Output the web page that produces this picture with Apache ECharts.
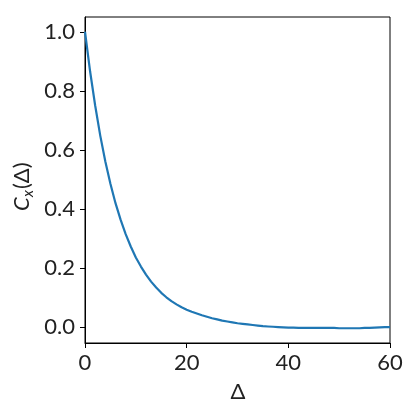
<!DOCTYPE html>
<html>
<head>
<meta charset="utf-8">
<script src="https://cdn.jsdelivr.net/npm/echarts@6/dist/echarts.min.js"></script>
<style>
  html, body { margin: 0; padding: 0; background: #fff; }
  #chart { width: 415px; height: 415px; }
</style>
</head>
<body>
<div id="chart"></div>
<script>
// lag values and autocorrelation
var delta = [
  0, 1, 2, 3, 4, 5, 6, 7, 8, 9,
  10, 11, 12, 13, 14, 15, 16, 17, 18, 19,
  20, 21, 22, 23, 24, 25, 26, 27, 28, 29,
  30, 31, 32, 33, 34, 35, 36, 37, 38, 39,
  40, 41, 42, 43, 44, 45, 46, 47, 48, 49,
  50, 51, 52, 53, 54, 55, 56, 57, 58, 59, 60
];
var corr = [
  1.000, 0.866, 0.750, 0.648, 0.560, 0.485, 0.419, 0.363, 0.314, 0.272,
  0.235, 0.204, 0.177, 0.153, 0.133, 0.115, 0.100, 0.087, 0.076, 0.066,
  0.058, 0.051, 0.045, 0.039, 0.034, 0.029, 0.025, 0.021, 0.018, 0.015,
  0.012, 0.010, 0.008, 0.006, 0.004, 0.002, 0.001, 0.000, -0.001, -0.002,
  -0.003, -0.003, -0.004, -0.004, -0.004, -0.004, -0.004, -0.004, -0.004, -0.004,
  -0.005, -0.005, -0.005, -0.005, -0.005, -0.004, -0.004, -0.003, -0.002, -0.001, -0.001
];
var yTicks = [0, 0.2, 0.4, 0.6, 0.8, 1.0];
var xTicks = [0, 20, 40, 60];

var font = "Lato";
var chart = echarts.init(document.getElementById("chart"));

var points = delta.map(function (d, i) { return [d, corr[i]]; });

chart.setOption({
  animation: false,
  backgroundColor: "#fff",
  grid: {
    left: 85, right: 25, top: 17, bottom: 72,
    show: true, borderColor: "#000", borderWidth: 1,
    outerBoundsMode: "none"
  },
  xAxis: {
    type: "value",
    min: 0,
    max: 60,
    interval: 20,
    axisLine: { show: true, onZero: false, lineStyle: { color: "#000", width: 1 } },
    axisTick: { show: true, length: 5, lineStyle: { color: "#000" }, customValues: xTicks },
    axisLabel: { color: "#222", fontSize: 22, fontFamily: font, margin: 9, customValues: xTicks },
    splitLine: { show: false }
  },
  yAxis: {
    type: "value",
    min: -0.055,
    max: 1.05,
    axisLine: { show: true, onZero: false, lineStyle: { color: "#000", width: 1 } },
    axisTick: { show: true, length: 5, lineStyle: { color: "#000" }, customValues: yTicks },
    axisLabel: {
      color: "#222", fontSize: 22, fontFamily: font, margin: 10,
      customValues: yTicks,
      formatter: function (v) { return v.toFixed(1); }
    },
    splitLine: { show: false }
  },
  graphic: [
    {
      type: "text",
      x: 238, y: 392,
      style: { text: "Δ", font: "22px " + font, fill: "#222", align: "center", verticalAlign: "middle" }
    },
    {
      type: "group",
      x: 22, y: 184,
      rotation: Math.PI / 2,
      children: [
        { type: "text", x: -27, y: 0, style: { text: "C", font: "italic 22px " + font, fill: "#222", align: "left", verticalAlign: "middle" } },
        { type: "text", x: -13, y: 6, style: { text: "x", font: "italic 15px " + font, fill: "#222", align: "left", verticalAlign: "middle" } },
        { type: "text", x: -5, y: 0, style: { text: "(Δ)", font: "22px " + font, fill: "#222", align: "left", verticalAlign: "middle" } }
      ]
    }
  ],
  series: [
    {
      type: "line",
      data: points,
      showSymbol: false,
      lineStyle: { color: "#1f77b4", width: 2.2 },
      clip: true
    }
  ]
});
</script>
</body>
</html>
